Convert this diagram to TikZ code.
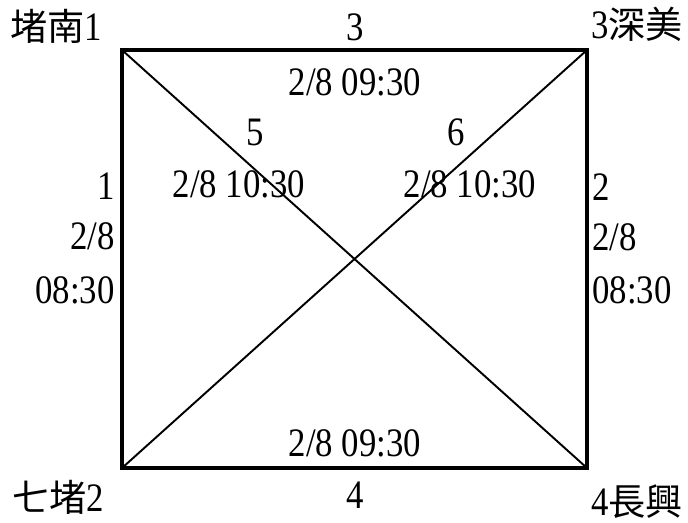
\documentclass[tikz,border=0pt]{standalone}
\usepackage{fontspec}
\setmainfont{Liberation Serif}[FakeStretch=0.86]
\newfontfamily\cjk{Noto Sans CJK TC}[Scale=0.92]
\usepackage{tikz}
\usetikzlibrary{positioning}
\newcommand{\labsize}{\fontsize{23}{26}\selectfont}

\begin{document}
\begin{tikzpicture}[x=0.02cm, y=-0.02cm,
  stn/.style={font=\labsize, inner sep=0pt},
  lab/.style={font=\labsize, inner sep=0pt},
  side/.style={line width=2.3pt, line join=miter},
  diag/.style={line width=1.1pt}]
\useasboundingbox (0,0) rectangle (688,522);
\coordinate (c1) at (122,50); \coordinate (c3) at (587,50);
\coordinate (c2) at (122,468); \coordinate (c4) at (587,468);
\node[stn] (n1) at (56,26) {{\cjk 堵南}1};
\node[stn] (n3) at (637,24) {3{\cjk 深美}};
\node[stn] (n2) at (58,497) {{\cjk 七堵}2};
\node[stn] (n4) at (637,502) {4{\cjk 長興}};
\draw[side] (c1) -- (c3) -- (c4) -- (c2) -- cycle;
\draw[diag] (c1) -- (c4); \draw[diag] (c2) -- (c3);
% edge 3 (top) and edge 4 (bottom)
\node[lab] (e3) at (355,27) {3};
\node[lab] (t3) at (355,82) {2/8 09:30};
\node[lab] (e4) at (355,495) {4};
\node[lab] (t4) at (355,443) {2/8 09:30};
% edges 1 and 2 (sides)
\node[lab, anchor=east] (e1) at (115,186) {1};
\node[lab, anchor=east] (d1) at (115,236) {2/8};
\node[lab, anchor=east] (t1) at (115,290) {08:30};
\node[lab, anchor=west] (e2) at (592,187) {2};
\node[lab, anchor=west] (d2) at (592,237) {2/8};
\node[lab, anchor=west] (t2) at (592,290) {08:30};
% diagonals 5 and 6
\node[lab] (e5) at (255,132) {5};
\node[lab] (t5) at (239,184) {2/8 10:30};
\node[lab] (e6) at (456,132) {6};
\node[lab] (t6) at (470,184) {2/8 10:30};
\end{tikzpicture}
\end{document}
